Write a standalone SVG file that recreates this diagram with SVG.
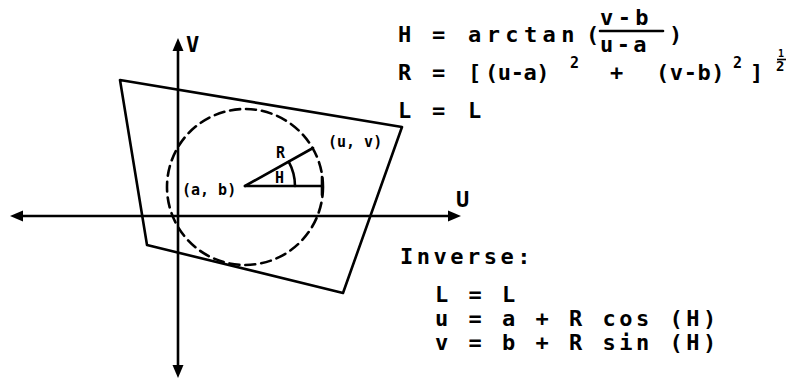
<svg xmlns="http://www.w3.org/2000/svg" width="790" height="380" viewBox="0 0 790 380">
<style>
  .ln { stroke:#000; stroke-width:2.6; fill:none; stroke-linecap:round; stroke-linejoin:round; }
  .ah { fill:#000; stroke:none; }
  .t { font-family:"DejaVu Sans Mono","Liberation Mono",monospace; font-weight:bold; font-size:22px; fill:#000; letter-spacing:3.5px; }
  .s { font-family:"DejaVu Sans Mono","Liberation Mono",monospace; font-weight:bold; font-size:15px; fill:#000; }
  .sup { font-family:"DejaVu Sans Mono","Liberation Mono",monospace; font-weight:bold; font-size:15px; fill:#000; }
</style>
<rect width="790" height="380" fill="#fff"/>
<g id="axes">
  <line class="ln" x1="178" y1="46" x2="178" y2="368"/>
  <polygon class="ah" points="178,38 172.5,51 183.5,51"/>
  <polygon class="ah" points="178,378 172.5,365 183.5,365"/>
  <line class="ln" x1="20" y1="216" x2="451" y2="216"/>
  <polygon class="ah" points="10,216 23,210.5 23,221.5"/>
  <polygon class="ah" points="461,216 448,210.5 448,221.5"/>
  <text class="t" x="186" y="52">V</text>
  <text class="t" x="456" y="207">U</text>
</g>
<g id="region">
  <polygon class="ln" points="120,80 402,127 343,293 147,245"/>
</g>
<g id="circle">
  <circle class="ln" cx="245" cy="187" r="78" stroke-dasharray="10 6" stroke-linecap="butt"/>
</g>
<g id="construction">
  <line class="ln" x1="245" y1="186" x2="322" y2="186"/>
  <line class="ln" x1="322" y1="177" x2="322" y2="195"/>
  <line class="ln" x1="245" y1="186" x2="313" y2="148"/>
  <path class="ln" d="M295,186 A50,50 0 0 0 288.8,161.9"/>
  <text class="s" x="276" y="158">R</text>
  <text class="s" x="275" y="183">H</text>
  <text class="s" x="182" y="195">(a, b)</text>
  <text class="s" x="328" y="147">(u, v)</text>
</g>
<g id="equations">
  <text class="t" x="398" y="42">H</text>
  <text class="t" x="432" y="42">=</text>
  <text class="t" x="468" y="42" textLength="110" lengthAdjust="spacing">arctan</text>
  <text class="t" x="586" y="42">(</text>
  <text class="t" x="600" y="25" textLength="52" lengthAdjust="spacing">v-b</text>
  <line class="ln" x1="600" y1="31" x2="663" y2="31"/>
  <text class="t" x="600" y="52" textLength="50" lengthAdjust="spacing">u-a</text>
  <text class="t" x="669" y="42">)</text>

  <text class="t" x="398" y="80">R</text>
  <text class="t" x="432" y="80">=</text>
  <text class="t" x="468" y="80">[</text>
  <text class="t" x="485" y="80" textLength="68" lengthAdjust="spacing">(u-a)</text>
  <text class="sup" x="570" y="68">2</text>
  <text class="t" x="610" y="80">+</text>
  <text class="t" x="656" y="80" textLength="72" lengthAdjust="spacing">(v-b)</text>
  <text class="sup" x="733" y="68">2</text>
  <text class="t" x="750" y="80">]</text>
  <text class="sup" x="778" y="57" style="font-size:10px">1</text>
  <line x1="777" y1="59.5" x2="786" y2="59.5" stroke="#000" stroke-width="1.6"/>
  <text class="sup" x="776" y="71" style="font-size:14px">2</text>

  <text class="t" x="398" y="118">L</text>
  <text class="t" x="432" y="118">=</text>
  <text class="t" x="468" y="118">L</text>

  <text class="t" x="400" y="264">Inverse:</text>
  <text class="t" x="435" y="302">L = L</text>
  <text class="t" x="435" y="326">u = a + R cos (H)</text>
  <text class="t" x="435" y="350">v = b + R sin (H)</text>
</g>
</svg>
